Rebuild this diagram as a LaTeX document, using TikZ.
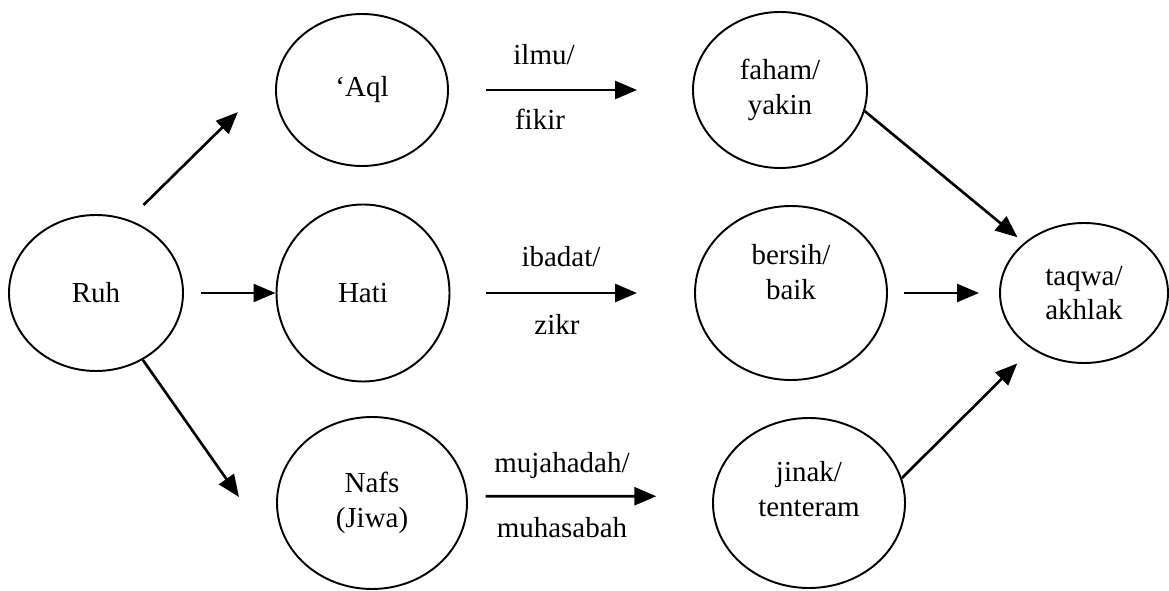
\documentclass[tikz,border=0pt]{standalone}
\usepackage{fontspec}
\setmainfont{Liberation Serif}
\usepackage{tikz}
\usetikzlibrary{positioning, shapes.geometric, arrows.meta}

\tikzset{
  oval/.style={draw, ellipse, line width=1.1pt, align=center, inner sep=0pt},
  arr/.style={line width=1.5pt, -{Triangle[length=0.44cm, width=0.36cm]}},
  lbl/.style={anchor=base, inner sep=0pt}
}

\begin{document}
\begin{tikzpicture}[font=\fontsize{16.5}{19.5}\selectfont]
    \useasboundingbox (0,0) rectangle (23.38,11.8);

    % Draw the ovals
    \node[oval, minimum width=3.48cm, minimum height=3.12cm] (ruh) at (1.92,5.94) {Ruh};
    \node[oval, minimum width=3.44cm, minimum height=3.04cm] (aql) at (7.24,10.0) {‘Aql};
    \node[oval, minimum width=3.46cm, minimum height=3.54cm] (hati) at (7.26,5.94) {Hati};
    \node[oval, minimum width=3.80cm, minimum height=3.44cm] (nafs) at (7.44,1.74) {Nafs\\(Jiwa)};
    \node[oval, minimum width=3.48cm, minimum height=3.12cm] (faham) at (15.6,10.0) {faham/\\yakin};
    \node[oval, minimum width=3.84cm, minimum height=3.48cm, text depth=0.84cm] (bersih) at (15.82,5.94) {bersih/\\baik};
    \node[oval, minimum width=3.84cm, minimum height=3.40cm, text depth=0.56cm] (jinak) at (16.18,1.74) {jinak/\\tenteram};
    \node[oval, minimum width=3.36cm, minimum height=2.80cm] (taqwa) at (21.68,5.94) {taqwa/\\akhlak};

    % Free end of the arrow towards Nafs
    \coordinate (tonafs) at (4.78,1.86);

    % Draw arrows
    \draw[arr, shorten <=0.42cm, shorten >=1.1cm] (ruh.66) -- (aql.169);
    \draw[arr, shorten <=0.34cm] (ruh) -- (hati);
    \draw[arr] (ruh.-55) -- (tonafs);
    \draw[arr, shorten <=0.74cm, shorten >=1.1cm] (aql) -- (faham);
    \draw[arr, shorten <=0.71cm, shorten >=1.14cm] (hati) -- (bersih);
    \draw[arr, shorten <=0.36cm, shorten >=1.12cm] (nafs.4) -- (jinak.176);
    \draw[arr, shorten >=0.17cm] (faham.-14) -- (taqwa.140);
    \draw[arr, shorten <=0.32cm, shorten >=0.4cm] (bersih) -- (taqwa);
    \draw[arr, shorten >=0.41cm] (jinak.15) -- (taqwa.-133);

    % Words above and below the middle arrows
    \foreach \n/\x/\y/\t in {ilmu/10.88/10.50/{ilmu/}, fikir/10.80/9.20/fikir,
                             ibadat/11.22/6.46/{ibadat/}, zikr/11.14/5.10/zikr,
                             mujahadah/11.24/2.36/{mujahadah/}, muhasabah/11.24/1.06/muhasabah} {
      \node[lbl] (\n) at (\x,\y) {\t};
    }

\end{tikzpicture}
\end{document}
